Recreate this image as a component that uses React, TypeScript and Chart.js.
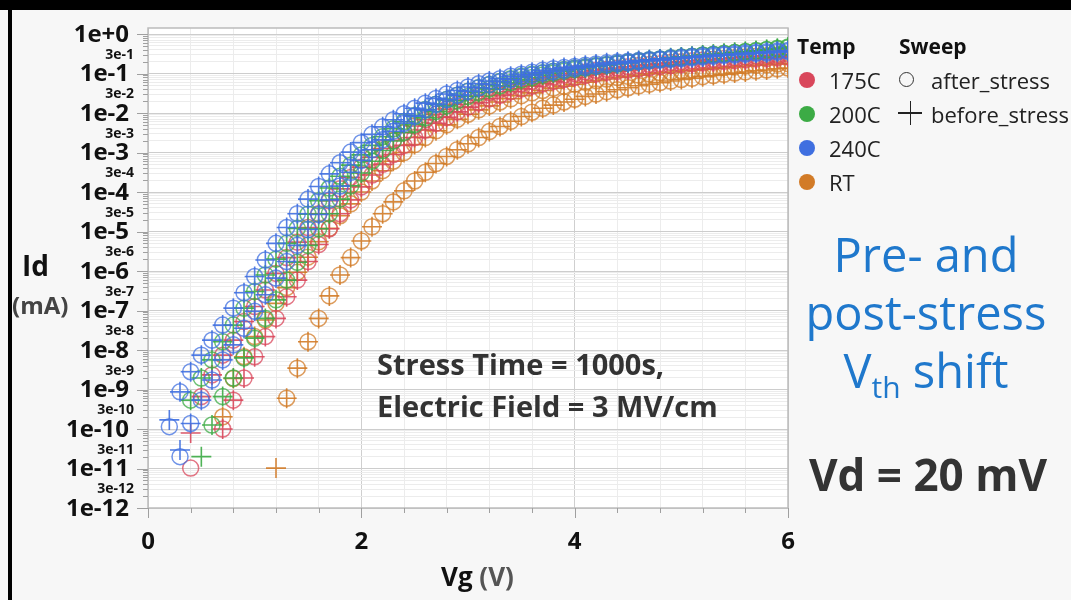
import React, { useEffect, useRef } from 'react';
import { Chart, registerables } from 'chart.js';

Chart.register(...registerables);

const n = null;

// Gate voltage sweep grid (V)
const VG = [0, 0.1, 0.2, 0.3, 0.4, 0.5, 0.6, 0.7, 0.8, 0.9, 1, 1.1, 1.2, 1.3, 1.4, 1.5, 1.6, 1.7, 1.8, 1.9, 2, 2.1, 2.2, 2.3, 2.4, 2.5, 2.6, 2.7, 2.8, 2.9, 3, 3.1, 3.2, 3.3, 3.4, 3.5, 3.6, 3.7, 3.8, 3.9, 4, 4.1, 4.2, 4.3, 4.4, 4.5, 4.6, 4.7, 4.8, 4.9, 5, 5.1, 5.2, 5.3, 5.4, 5.5, 5.6, 5.7, 5.8, 5.9, 6];

// log10(Id / mA) per device (both sweeps nearly overlap)
const blue1 = [n, n, n, -9.06, -8.55, -8.13, -7.75, -7.37, -6.94, -6.55,
  -6.14, -5.72, -5.3, -4.9, -4.55, -4.18, -3.86, -3.54, -3.26, -2.99,
  -2.75, -2.54, -2.35, -2.17, -2.02, -1.88, -1.75, -1.63, -1.52, -1.43,
  -1.34, -1.26, -1.19, -1.13, -1.07, -1.02, -0.97, -0.92, -0.88, -0.85,
  -0.82, -0.79, -0.76, -0.73, -0.71, -0.69, -0.67, -0.65, -0.63, -0.61,
  -0.59, -0.57, -0.55, -0.53, -0.52, -0.5, -0.48, -0.47, -0.45, -0.43, -0.42];
const blue2 = [n, n, n, n, -9.86, -9.27, -8.76, -8.25, -7.87, -7.45,
  -7.02, -6.6, -6.18, -5.76, -5.35, -4.95, -4.57, -4.2, -3.85, -3.5,
  -3.2, -2.93, -2.68, -2.46, -2.26, -2.08, -1.92, -1.78, -1.66, -1.55,
  -1.45, -1.36, -1.28, -1.21, -1.15, -1.09, -1.04, -0.99, -0.95, -0.91,
  -0.87, -0.84, -0.81, -0.78, -0.75, -0.73, -0.7, -0.68, -0.66, -0.64,
  -0.62, -0.6, -0.58, -0.56, -0.54, -0.53, -0.51, -0.49, -0.48, -0.46, -0.44];
const green1 = [n, n, n, n, -9.27, -8.71, -8.25, -7.79, -7.37, -6.94,
  -6.52, -6.1, -5.7, -5.3, -4.92, -4.56, -4.22, -3.9, -3.6, -3.32,
  -3.06, -2.82, -2.6, -2.4, -2.22, -2.06, -1.91, -1.78, -1.66, -1.55,
  -1.45, -1.36, -1.28, -1.2, -1.13, -1.07, -1.02, -0.98, -0.94, -0.9,
  -0.86, -0.83, -0.8, -0.77, -0.74, -0.71, -0.68, -0.65, -0.63, -0.6,
  -0.58, -0.56, -0.53, -0.51, -0.49, -0.47, -0.44, -0.42, -0.39, -0.36, -0.33];
const green2 = [n, n, n, n, n, n, -9.9, -9.18, -8.71, -8.2,
  -7.7, -7.2, -6.73, -6.23, -5.78, -5.35, -4.93, -4.55, -4.18, -3.84,
  -3.52, -3.22, -2.95, -2.71, -2.49, -2.29, -2.12, -1.96, -1.82, -1.69,
  -1.58, -1.48, -1.39, -1.31, -1.23, -1.16, -1.1, -1.04, -0.99, -0.94,
  -0.9, -0.86, -0.82, -0.79, -0.76, -0.73, -0.7, -0.67, -0.64, -0.62,
  -0.59, -0.57, -0.54, -0.52, -0.5, -0.47, -0.45, -0.43, -0.4, -0.38, -0.35];
const red1 = [n, n, n, n, n, -9.18, -8.63, -8.13, -7.75, -7.28,
  -6.9, -6.48, -6.06, -5.66, -5.27, -4.9, -4.55, -4.22, -3.92, -3.63,
  -3.37, -3.12, -2.9, -2.69, -2.5, -2.33, -2.17, -2.03, -1.9, -1.78,
  -1.67, -1.57, -1.48, -1.4, -1.33, -1.26, -1.2, -1.14, -1.09, -1.04,
  -1.0, -0.96, -0.92, -0.89, -0.86, -0.83, -0.8, -0.77, -0.75, -0.72,
  -0.7, -0.68, -0.66, -0.64, -0.62, -0.6, -0.58, -0.56, -0.55, -0.53, -0.51];
const red2 = [n, n, n, n, n, n, n, -10.0, -9.27, -8.71,
  -8.17, -7.66, -7.2, -6.65, -6.23, -5.76, -5.33, -4.93, -4.55, -4.2,
  -3.87, -3.57, -3.3, -3.05, -2.82, -2.62, -2.43, -2.26, -2.11, -1.97,
  -1.85, -1.74, -1.64, -1.55, -1.46, -1.39, -1.32, -1.26, -1.2, -1.15,
  -1.1, -1.05, -1.01, -0.97, -0.94, -0.91, -0.88, -0.85, -0.82, -0.8,
  -0.77, -0.75, -0.73, -0.71, -0.69, -0.67, -0.65, -0.63, -0.62, -0.6, -0.58];
const orange1 = [n, n, n, n, n, n, n, -9.69, -8.72, -8.17,
  -7.66, -7.24, -6.82, -6.42, -6.03, -5.65, -5.26, -4.92, -4.6, -4.3,
  -4.0, -3.72, -3.46, -3.22, -3.0, -2.8, -2.62, -2.45, -2.3, -2.16,
  -2.03, -1.92, -1.82, -1.72, -1.64, -1.56, -1.49, -1.43, -1.37, -1.32,
  -1.27, -1.22, -1.18, -1.14, -1.1, -1.07, -1.04, -1.01, -0.98, -0.96,
  -0.93, -0.91, -0.89, -0.87, -0.85, -0.83, -0.81, -0.79, -0.78, -0.76, -0.75];
const orange2 = [n, n, n, n, n, n, n, n, n, n,
  n, n, n, -9.22, -8.46, -7.79, -7.2, -6.63, -6.1, -5.66,
  -5.24, -4.88, -4.55, -4.25, -3.97, -3.72, -3.5, -3.28, -3.1, -2.93,
  -2.78, -2.62, -2.47, -2.34, -2.21, -2.09, -1.98, -1.88, -1.8, -1.72,
  -1.65, -1.58, -1.52, -1.46, -1.41, -1.36, -1.31, -1.27, -1.23, -1.19,
  -1.15, -1.12, -1.08, -1.05, -1.02, -0.99, -0.96, -0.93, -0.91, -0.88, -0.86];

// Low-current points where the two sweeps differ: [Vg, log10(Id)]
const blueAfterExtra = [[0.2, -9.94], [0.3, -10.7]];
const blueBeforeExtra = [[0.2, -9.77], [0.3, -10.53]];
const greenAfterExtra: number[][] = [];
const greenBeforeExtra = [[0.5, -10.7]];
const redAfterExtra = [[0.4, -10.99]];
const redBeforeExtra = [[0.4, -10.1]];
const orangeAfterExtra: number[][] = [];
const orangeBeforeExtra = [[1.2, -10.99]];

const tempLabels = ['175C', '200C', '240C', 'RT'];
const tempColors = ['#d9475b', '#3cab45', '#3f6fe0', '#d27b27'];
const sweepLabels = ['after_stress', 'before_stress'];

const xTickValues = [0, 0.4, 0.8, 1.2, 1.6, 2, 2.4, 2.8, 3.2, 3.6, 4, 4.4, 4.8, 5.2, 5.6, 6];
const xTickLabels = ['0', '2', '4', '6'];
const yMajorLabels = ['1e+0', '1e-1', '1e-2', '1e-3', '1e-4', '1e-5', '1e-6', '1e-7', '1e-8', '1e-9', '1e-10', '1e-11', '1e-12'];
const yMinorLabels = ['3e-1', '3e-2', '3e-3', '3e-4', '3e-5', '3e-6', '3e-7', '3e-8', '3e-9', '3e-10', '3e-11', '3e-12'];

const FONT = '"Open Sans", "Noto Sans", sans-serif';

function rgba(hex: string, a: number) {
  const r = parseInt(hex.slice(1, 3), 16), g = parseInt(hex.slice(3, 5), 16), b = parseInt(hex.slice(5, 7), 16);
  return `rgba(${r},${g},${b},${a})`;
}

function toPoints(curves: (number | null)[][], extras: number[][]) {
  const pts: { x: number; y: number }[] = [];
  curves.forEach((c) => c.forEach((l, i) => { if (l !== null) pts.push({ x: VG[i], y: Math.pow(10, l) }); }));
  extras.forEach(([x, l]) => pts.push({ x, y: Math.pow(10, l) }));
  return pts;
}

const isDecade = (v: number) => Math.abs(Math.log10(v) - Math.round(Math.log10(v))) < 1e-9;
const isXMajor = (v: number) => Math.abs(v / 2 - Math.round(v / 2)) < 1e-9;

const decorPlugin = {
  id: 'decor',
  beforeDraw(chart: any) {
    const { ctx, chartArea: a } = chart;
    ctx.save();
    ctx.fillStyle = '#ffffff';
    ctx.fillRect(a.left, a.top, a.right - a.left, a.bottom - a.top);
    ctx.restore();
  },
  beforeDatasetsDraw(chart: any) {
    const { ctx, chartArea: a } = chart;
    ctx.save();
    ctx.strokeStyle = '#bcbcbc';
    ctx.lineWidth = 1.5;
    ctx.strokeRect(a.left, a.top, a.right - a.left, a.bottom - a.top);
    ctx.restore();
  },
  afterDraw(chart: any) {
    const { ctx, chartArea: a, scales } = chart;
    const xs = scales.x, ys = scales.y;
    ctx.save();
    ctx.strokeStyle = '#a0a0a0';
    ctx.lineWidth = 1;
    ys.ticks.forEach((t: any) => {
      const py = Math.round(ys.getPixelForValue(t.value)) + 0.5;
      const len = isDecade(t.value) ? 11 : 5;
      ctx.beginPath(); ctx.moveTo(a.left - len, py); ctx.lineTo(a.left, py); ctx.stroke();
    });
    xs.ticks.forEach((t: any) => {
      const px = Math.round(xs.getPixelForValue(t.value)) + 0.5;
      const len = isXMajor(t.value) ? 10 : 5;
      ctx.beginPath(); ctx.moveTo(px, a.bottom); ctx.lineTo(px, a.bottom + len); ctx.stroke();
    });
    // y labels
    ctx.fillStyle = '#111';
    ctx.textBaseline = 'middle';
    ctx.textAlign = 'right';
    yMajorLabels.forEach((lab, k) => {
      const py = ys.getPixelForValue(Math.pow(10, -k));
      ctx.font = `bold 24px ${FONT}`;
      ctx.fillText(lab, a.left - 19, py + 1);
    });
    yMinorLabels.forEach((lab, k) => {
      const py = ys.getPixelForValue(3 * Math.pow(10, -(k + 1)));
      ctx.font = `bold 14px ${FONT}`;
      ctx.fillText(lab, a.left - 14, py);
    });
    // x labels
    ctx.textAlign = 'center';
    ctx.font = `bold 24px ${FONT}`;
    xTickLabels.forEach((lab) => {
      const px = xs.getPixelForValue(Number(lab));
      ctx.fillText(lab, px, a.bottom + 34);
    });
    ctx.restore();
  },
};

export default function App() {
  const ref = useRef<HTMLCanvasElement>(null);

  useEffect(() => {
    if (!ref.current) return;
    const groups = [
      { color: tempColors[2], curves: [blue1, blue2], after: blueAfterExtra, before: blueBeforeExtra },
      { color: tempColors[1], curves: [green1, green2], after: greenAfterExtra, before: greenBeforeExtra },
      { color: tempColors[0], curves: [red1, red2], after: redAfterExtra, before: redBeforeExtra },
      { color: tempColors[3], curves: [orange1, orange2], after: orangeAfterExtra, before: orangeBeforeExtra },
    ];
    const datasets: any[] = [];
    groups.forEach((g) => {
      datasets.push({
        label: 'before', data: toPoints(g.curves, g.before), showLine: false,
        pointStyle: 'cross', pointRadius: 10, pointBorderWidth: 1.6,
        pointBorderColor: rgba(g.color, 0.9), pointBackgroundColor: 'rgba(0,0,0,0)',
      });
      datasets.push({
        label: 'after', data: toPoints(g.curves, g.after), showLine: false,
        pointStyle: 'circle', pointRadius: 8, pointBorderWidth: 1.5,
        pointBorderColor: rgba(g.color, 0.75), pointBackgroundColor: 'rgba(0,0,0,0)',
      });
    });

    const yTicks: number[] = [1];
    for (let e = -1; e >= -12; e--) for (let m = 9; m >= 1; m--) yTicks.push(m * Math.pow(10, e));

    const chart = new Chart(ref.current, {
      type: 'scatter',
      data: { datasets },
      plugins: [decorPlugin],
      options: {
        animation: false,
        responsive: false,
        events: [],
        layout: { padding: { left: 148, top: 28, right: 283, bottom: 92 } },
        plugins: { legend: { display: false }, tooltip: { enabled: false } },
        scales: {
          x: {
            type: 'linear', min: 0, max: 6,
            afterBuildTicks: (s: any) => { s.ticks = xTickValues.map((v) => ({ value: v })); },
            afterFit: (s: any) => { s.height = 0; },
            ticks: { display: false },
            border: { display: false },
            grid: {
              drawTicks: false,
              lineWidth: 1,
              color: (c: any) => (c.tick && isXMajor(c.tick.value) ? '#cfcfcf' : '#ececec'),
            },
          },
          y: {
            type: 'logarithmic', min: 1e-12, max: 1.42,
            afterBuildTicks: (s: any) => { s.ticks = yTicks.map((v) => ({ value: v })); },
            afterFit: (s: any) => { s.width = 0; },
            ticks: { display: false },
            border: { display: false },
            grid: {
              drawTicks: false,
              lineWidth: 1,
              color: (c: any) => (c.tick && isDecade(c.tick.value) ? '#cdcdcd' : '#ececec'),
            },
          },
        },
      },
    } as any);
    return () => chart.destroy();
  }, []);

  const abs = (s: React.CSSProperties): React.CSSProperties => ({ position: 'absolute', whiteSpace: 'nowrap', ...s });

  return (
    <div style={{ position: 'fixed', left: 0, top: 0, width: 1071, height: 600, background: '#f7f7f7', overflow: 'hidden', fontFamily: FONT }}>
      <div style={abs({ left: 0, top: 0, width: 1071, height: 10, background: '#000' })} />
      <div style={abs({ left: 8, top: 0, width: 4, height: 600, background: '#000' })} />
      <canvas ref={ref} width={1071} height={600} style={{ position: 'absolute', left: 0, top: 0, width: 1071, height: 600 }} />

      {/* axis titles */}
      <div style={abs({ left: 22, top: 251, font: `bold 28px ${FONT}`, lineHeight: '28px', color: '#111' })}>Id</div>
      <div style={abs({ left: 12, top: 293, font: `bold 24px ${FONT}`, lineHeight: '24px', color: '#444' })}>(mA)</div>
      <div style={abs({ left: 441, top: 563, font: `bold 26px ${FONT}`, lineHeight: '26px', color: '#111' })}>
        Vg <span style={{ color: '#555' }}>(V)</span>
      </div>

      {/* annotation */}
      <div style={abs({ left: 377, top: 343, font: `bold 29px ${FONT}`, lineHeight: '42px', color: '#333' })}>
        Stress Time = 1000s,<br />Electric Field = 3 MV/cm
      </div>

      {/* right side text */}
      <div style={abs({ left: 795, top: 225, width: 262, textAlign: 'center', font: `47px ${FONT}`, lineHeight: '58px', color: '#1f78cc' })}>
        Pre- and<br />post-stress<br />V<sub style={{ fontSize: '30px', verticalAlign: '-10px', lineHeight: '0' }}>th</sub> shift
      </div>
      <div style={abs({ left: 795, top: 450, width: 266, textAlign: 'center', font: `bold 44px ${FONT}`, lineHeight: '48px', color: '#333' })}>
        Vd = 20 mV
      </div>

      {/* legend */}
      <div style={abs({ left: 797, top: 34, font: `bold 21px ${FONT}`, lineHeight: '24px', color: '#111' })}>Temp</div>
      <div style={abs({ left: 899, top: 34, font: `bold 21px ${FONT}`, lineHeight: '24px', color: '#111' })}>Sweep</div>
      {tempLabels.map((t, i) => (
        <React.Fragment key={t}>
          <div style={abs({ left: 799, top: 72 + i * 34, width: 16, height: 16, borderRadius: 8, background: tempColors[i] })} />
          <div style={abs({ left: 829, top: 68 + i * 34, font: `22px ${FONT}`, lineHeight: '24px', color: '#222' })}>{t}</div>
        </React.Fragment>
      ))}
      <div style={abs({ left: 899, top: 72, width: 13, height: 13, borderRadius: 8, border: '1.5px solid #333' })} />
      <div style={abs({ left: 898, top: 112, width: 24, height: 1.5, background: '#222' })} />
      <div style={abs({ left: 909.5, top: 101, width: 1.5, height: 24, background: '#222' })} />
      {sweepLabels.map((s, i) => (
        <div key={s} style={abs({ left: 931, top: 68 + i * 34, font: `22px ${FONT}`, lineHeight: '24px', color: '#222' })}>{s}</div>
      ))}
    </div>
  );
}
